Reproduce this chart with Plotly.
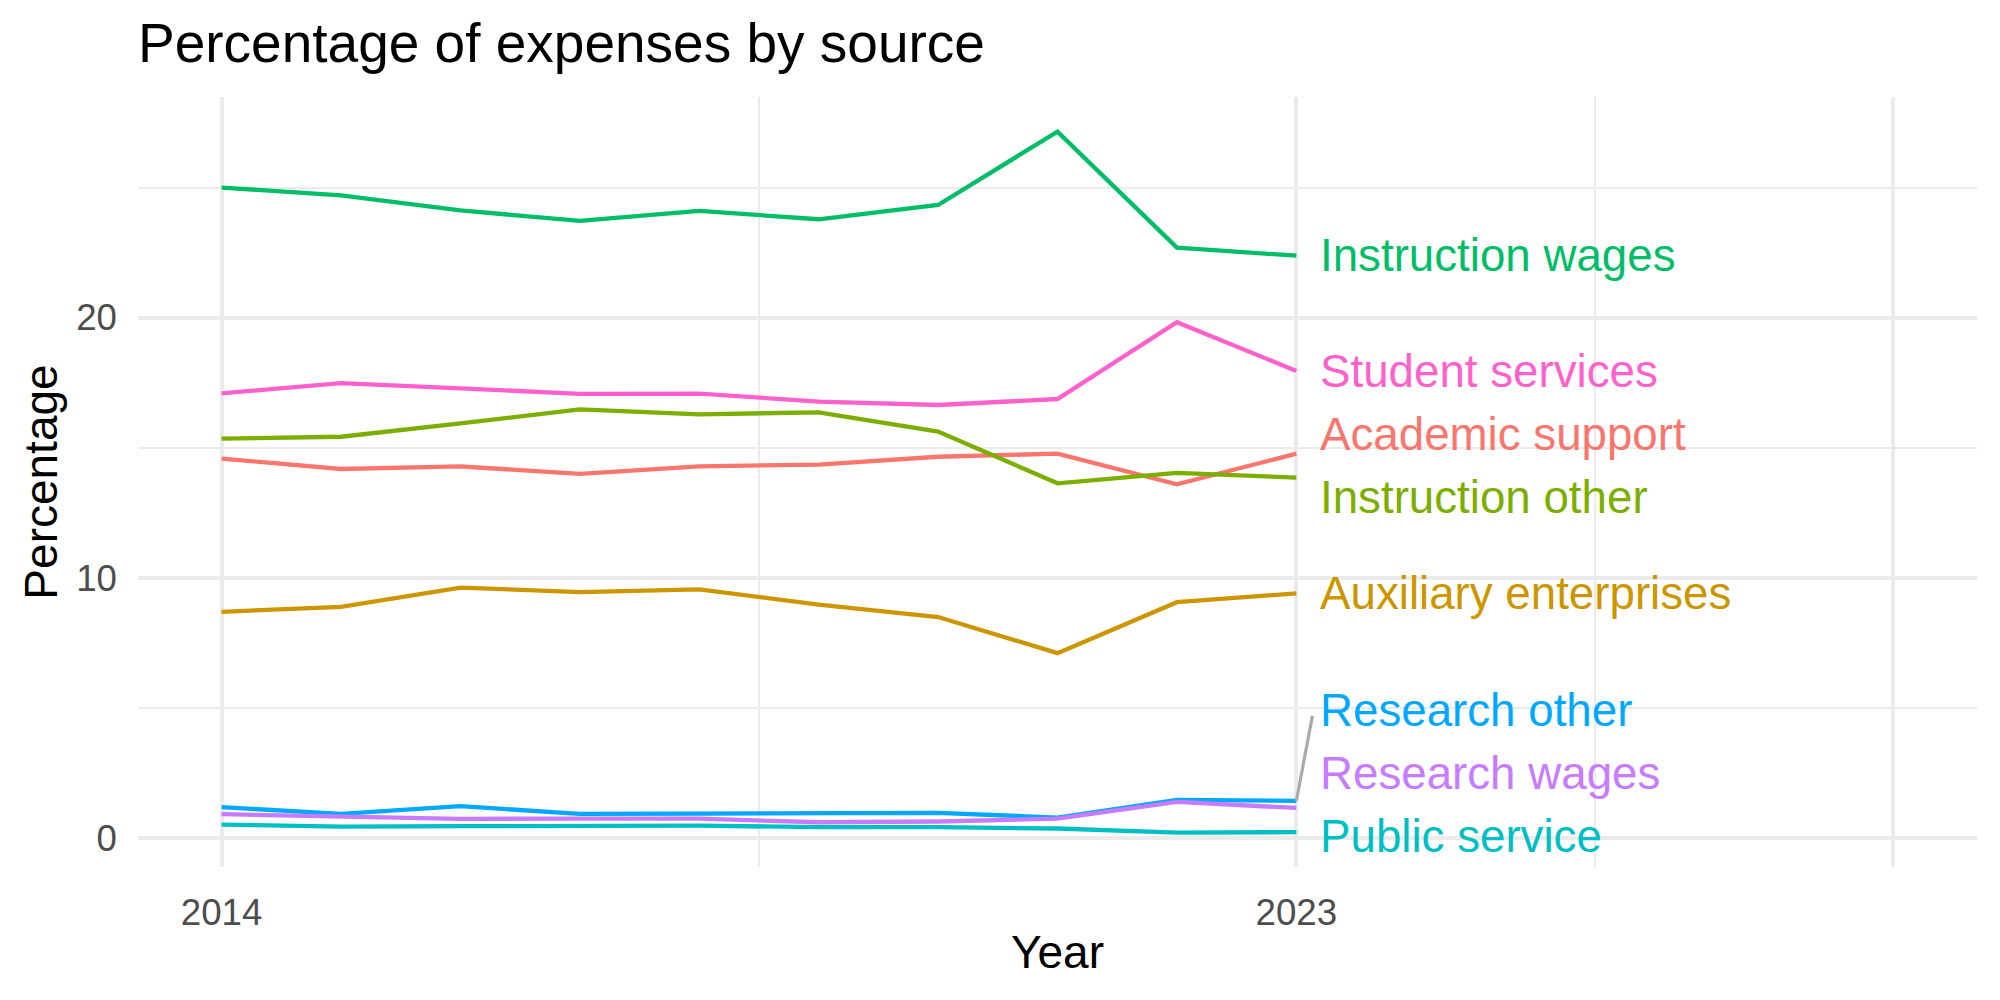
import plotly.graph_objects as go

years = [2014, 2015, 2016, 2017, 2018, 2019, 2020, 2021, 2022, 2023]

categories = ["Academic support", "Auxiliary enterprises", "Instruction other",
              "Instruction wages", "Public service", "Research other",
              "Research wages", "Student services"]

academic_support = [14.58, 14.18, 14.28, 13.99, 14.28, 14.35, 14.65, 14.77, 13.59, 14.77]
auxiliary_enterprises = [8.69, 8.88, 9.62, 9.45, 9.55, 8.97, 8.49, 7.10, 9.06, 9.40]
instruction_other = [15.35, 15.42, 15.93, 16.47, 16.28, 16.36, 15.62, 13.63, 14.03, 13.85]
instruction_wages = [25.0, 24.7, 24.12, 23.72, 24.1, 23.78, 24.33, 27.15, 22.69, 22.38]
public_service = [0.51, 0.43, 0.45, 0.47, 0.47, 0.41, 0.41, 0.36, 0.20, 0.22]
research_other = [1.18, 0.92, 1.22, 0.92, 0.93, 0.96, 0.96, 0.78, 1.46, 1.42]
research_wages = [0.91, 0.83, 0.73, 0.74, 0.74, 0.60, 0.63, 0.74, 1.38, 1.15]
student_services = [17.09, 17.48, 17.28, 17.07, 17.08, 16.77, 16.64, 16.87, 19.82, 17.95]

series = [academic_support, auxiliary_enterprises, instruction_other,
          instruction_wages, public_service, research_other,
          research_wages, student_services]

colors = ["#F8766D", "#CD9600", "#7CAE00", "#00BE67",
          "#00BFC4", "#00A9FF", "#C77CFF", "#FF61CC"]

# repelled label positions (y, in data units) at the right end
label_y = [15.51, 9.38, 13.08, 22.39, 0.06, 4.89, 2.47, 17.92]

x_tickvals = [2014, 2023, 2028]
x_ticktext = ["2014", "2023", ""]
y_tickvals = [0, 10, 20]
y_ticktext = ["0", "10", "20"]

FONT = "Liberation Sans, Arial, Helvetica, sans-serif"

fig = go.Figure()
for name, vals, col in zip(categories, series, colors):
    fig.add_trace(go.Scatter(x=years, y=vals, mode="lines", name=name,
                             line=dict(color=col, width=4.3), showlegend=False))

# connector segment for "Research other"
fig.add_shape(type="line", xref="x", yref="y",
              x0=years[-1], y0=research_other[-1],
              x1=years[-1] + 0.135, y1=label_y[5] - 0.2,
              line=dict(color="#AAAAAA", width=3.2))

for name, ly, col in zip(categories, label_y, colors):
    fig.add_annotation(x=years[-1], y=ly, xref="x", yref="y", text=name,
                       showarrow=False, xanchor="left", yanchor="middle",
                       xshift=22, font=dict(family=FONT, size=45.7, color=col))

grid = "#EBEBEB"
fig.update_layout(
    width=2000, height=1000,
    margin=dict(l=138, r=23, t=97, b=133),
    paper_bgcolor="white", plot_bgcolor="white",
    font=dict(family=FONT, color="black"),
    title=dict(text="Percentage of expenses by source", x=138 / 2000, xanchor="left",
               xref="container", y=1 - 43 / 1000, yanchor="middle", yref="container",
               font=dict(size=55, color="black", family=FONT)),
)
fig.update_xaxes(
    range=[2013.3, 2028.7], tickmode="array", tickvals=x_tickvals, ticktext=x_ticktext,
    showgrid=True, gridcolor=grid, gridwidth=4, zeroline=False, showline=False,
    ticks="", ticklabelstandoff=20,
    tickfont=dict(size=36.7, color="#4D4D4D", family=FONT),
    minor=dict(tickmode="array", tickvals=[2018.5, 2025.5], showgrid=True,
               gridcolor=grid, gridwidth=2.2, ticks=""),
    title=dict(text="Year", font=dict(size=46, color="black", family=FONT), standoff=4),
    automargin=False,
)
fig.update_yaxes(
    range=[-1.12, 28.48], tickmode="array", tickvals=y_tickvals, ticktext=y_ticktext,
    showgrid=True, gridcolor=grid, gridwidth=4, zeroline=False, showline=False,
    ticks="", ticklabelstandoff=20,
    tickfont=dict(size=36.7, color="#4D4D4D", family=FONT),
    minor=dict(tickmode="array", tickvals=[5, 15, 25], showgrid=True,
               gridcolor=grid, gridwidth=2.2, ticks=""),
    title=dict(text="Percentage", font=dict(size=46, color="black", family=FONT), standoff=4),
    automargin=False,
)

fig.write_html("out.html")
